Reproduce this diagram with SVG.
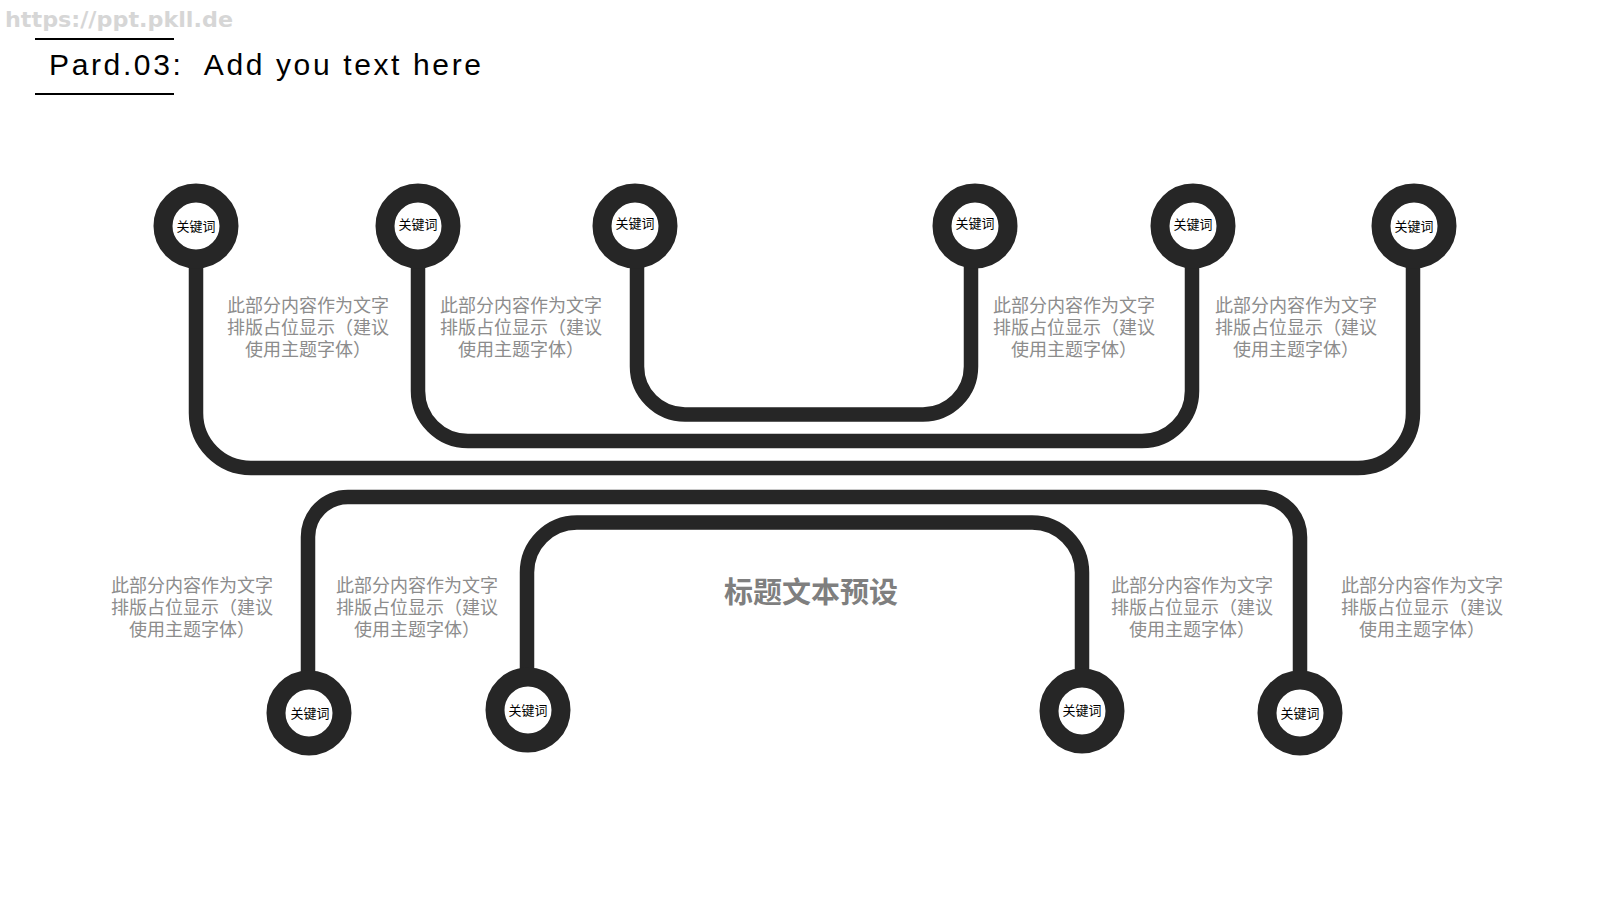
<svg xmlns="http://www.w3.org/2000/svg" width="1600" height="900" viewBox="0 0 1600 900">
<style>
.wire{fill:none;stroke:#262626;stroke-width:14.5;stroke-linecap:butt;stroke-linejoin:round}
.ring{fill:#ffffff;stroke:#262626;stroke-width:19}
.kw{font-family:"Noto Sans CJK SC","Noto Sans",sans-serif;font-size:13px;fill:#000000;text-anchor:middle}
.desc{font-family:"Noto Sans CJK SC","Noto Sans",sans-serif;font-size:18px;fill:#8c8c8c;text-anchor:middle}
</style>
<rect width="1600" height="900" fill="#ffffff"/>
<text x="5" y="27" font-family="DejaVu Sans, sans-serif" font-weight="bold" font-size="21" fill="#d6d6d6" textLength="228" lengthAdjust="spacingAndGlyphs">https://ppt.pkll.de</text>
<line x1="35" y1="39" x2="174" y2="39" stroke="#000" stroke-width="2"/>
<line x1="35" y1="94" x2="174" y2="94" stroke="#000" stroke-width="2"/>
<text x="49" y="75" font-family="Liberation Sans, sans-serif" font-size="30" fill="#000" textLength="432" xml:space="preserve">Pard.03:  Add you text here</text>

<g id="connectors">
<path class="wire" d="M637,226 V366.5 A48,48 0 0 0 685,414.5 H923 A48,48 0 0 0 971,366.5 V226"/>
<path class="wire" d="M418,226 V391 A50,50 0 0 0 468,441 H1142 A50,50 0 0 0 1192,391 V226"/>
<path class="wire" d="M196,226 V413 A55,55 0 0 0 251,468 H1358 A55,55 0 0 0 1413,413 V226"/>
<path class="wire" d="M308,713 V537 A40,40 0 0 1 348,497 H1260 A40,40 0 0 1 1300,537 V713"/>
<path class="wire" d="M527,710 V572.5 A50,50 0 0 1 577,522.5 H1032 A50,50 0 0 1 1082,572.5 V711"/>
</g>

<g id="n1"><circle class="ring" cx="196" cy="226" r="33"/><text class="kw" x="196" y="231">关键词</text></g>
<g id="n2"><circle class="ring" cx="418" cy="226" r="33"/><text class="kw" x="418" y="229">关键词</text></g>
<g id="n3"><circle class="ring" cx="635" cy="226" r="33"/><text class="kw" x="635" y="228">关键词</text></g>
<g id="n4"><circle class="ring" cx="975" cy="226" r="33"/><text class="kw" x="975" y="228">关键词</text></g>
<g id="n5"><circle class="ring" cx="1193" cy="226" r="33"/><text class="kw" x="1193" y="229">关键词</text></g>
<g id="n6"><circle class="ring" cx="1414" cy="226" r="33"/><text class="kw" x="1414" y="231">关键词</text></g>
<g id="n7"><circle class="ring" cx="309" cy="713" r="33"/><text class="kw" x="310" y="718">关键词</text></g>
<g id="n8"><circle class="ring" cx="528" cy="710" r="33"/><text class="kw" x="528" y="715">关键词</text></g>
<g id="n9"><circle class="ring" cx="1082" cy="711" r="33"/><text class="kw" x="1082" y="715">关键词</text></g>
<g id="n10"><circle class="ring" cx="1300" cy="713" r="33"/><text class="kw" x="1300" y="718">关键词</text></g>

<g id="t1"><text class="desc" y="312"><tspan x="308">此部分内容作为文字</tspan><tspan x="308" dy="22">排版占位显示（建议</tspan><tspan x="308" dy="22">使用主题字体）</tspan></text></g>
<g id="t2"><text class="desc" y="312"><tspan x="521">此部分内容作为文字</tspan><tspan x="521" dy="22">排版占位显示（建议</tspan><tspan x="521" dy="22">使用主题字体）</tspan></text></g>
<g id="t3"><text class="desc" y="312"><tspan x="1074">此部分内容作为文字</tspan><tspan x="1074" dy="22">排版占位显示（建议</tspan><tspan x="1074" dy="22">使用主题字体）</tspan></text></g>
<g id="t4"><text class="desc" y="312"><tspan x="1296">此部分内容作为文字</tspan><tspan x="1296" dy="22">排版占位显示（建议</tspan><tspan x="1296" dy="22">使用主题字体）</tspan></text></g>
<g id="t5"><text class="desc" y="592"><tspan x="192">此部分内容作为文字</tspan><tspan x="192" dy="22">排版占位显示（建议</tspan><tspan x="192" dy="22">使用主题字体）</tspan></text></g>
<g id="t6"><text class="desc" y="592"><tspan x="417">此部分内容作为文字</tspan><tspan x="417" dy="22">排版占位显示（建议</tspan><tspan x="417" dy="22">使用主题字体）</tspan></text></g>
<g id="t7"><text class="desc" y="592"><tspan x="1192">此部分内容作为文字</tspan><tspan x="1192" dy="22">排版占位显示（建议</tspan><tspan x="1192" dy="22">使用主题字体）</tspan></text></g>
<g id="t8"><text class="desc" y="592"><tspan x="1422">此部分内容作为文字</tspan><tspan x="1422" dy="22">排版占位显示（建议</tspan><tspan x="1422" dy="22">使用主题字体）</tspan></text></g>

<g id="title"><text x="811" y="603" font-family="Noto Sans CJK SC, sans-serif" font-weight="bold" font-size="29" fill="#7f7f7f" text-anchor="middle">标题文本预设</text></g>
</svg>
